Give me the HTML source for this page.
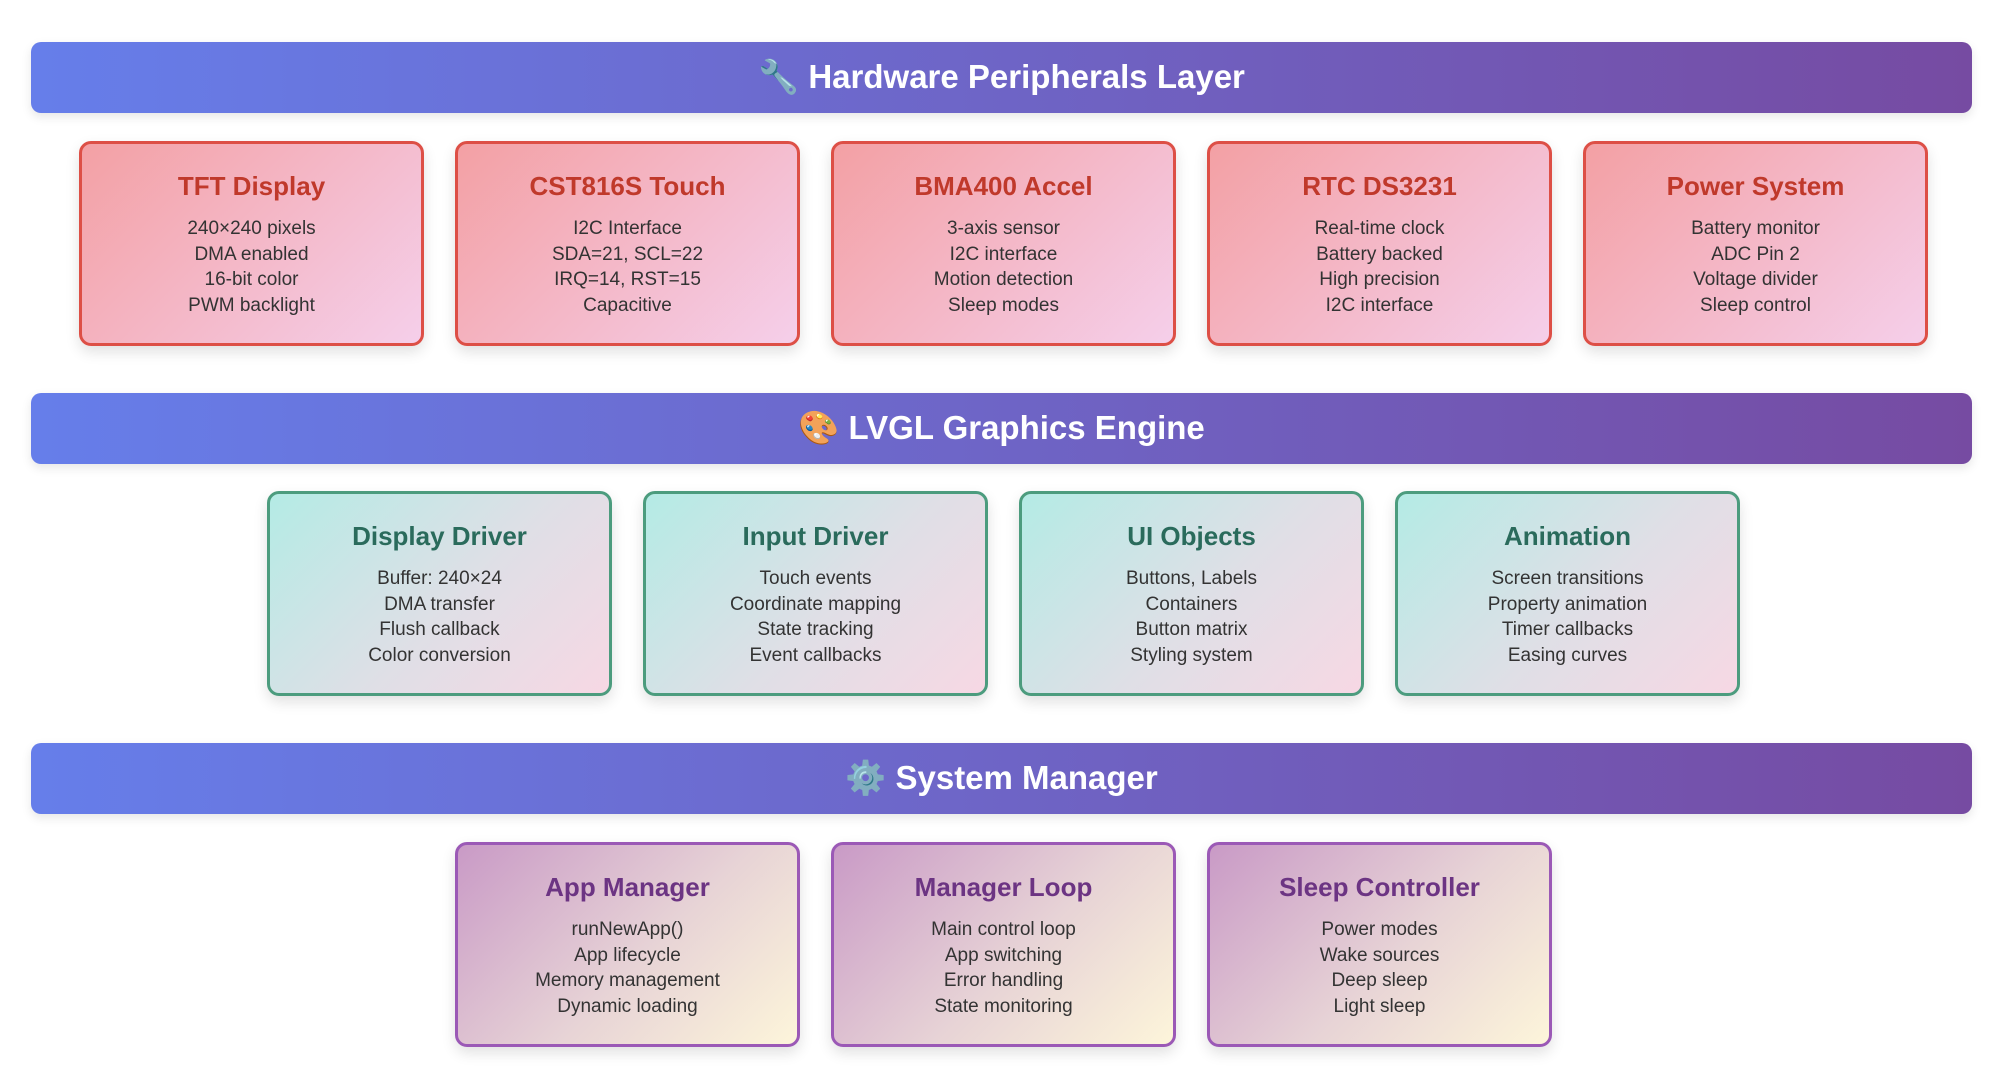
<!DOCTYPE html>
<html><head><meta charset="utf-8"><style>
*{margin:0;padding:0;box-sizing:border-box}
body{width:2008px;height:1076px;background:#fff;position:relative;overflow:hidden;font-family:"Liberation Sans","DejaVu Sans",sans-serif}
.ban{position:absolute;left:31px;width:1941px;height:71px;border-radius:10px;background:linear-gradient(90deg,#667eea,#764ba2);color:#fff;font-weight:bold;font-size:33px;display:flex;align-items:center;justify-content:center;box-shadow:0 4px 10px rgba(0,0,0,.1)}
.c{position:absolute;width:345px;height:205px;border-radius:12px;border:3px solid;text-align:center;box-shadow:0 6px 14px rgba(0,0,0,.12);padding-top:25px}
.c h3{font-size:26px;font-weight:bold;margin-bottom:13px;line-height:34px}
.c p{font-size:19px;line-height:25.7px;color:#333}
.r{background:linear-gradient(135deg,#f3a0a4,#f5cfea);border-color:#dd4f46}
.r h3{color:#c0392b}
.t{background:linear-gradient(135deg,#b4ebe5,#dfdfe6 55%,#f7d8e4);border-color:#4c9c7e}
.t h3{color:#2a6b5c}
.p{background:linear-gradient(135deg,#c99ac6,#e7d3d6 55%,#fdf5da);border-color:#9b59b6}
.p h3{color:#6c3483}
</style></head><body>
<div class="ban" style="top:42px">🔧 Hardware Peripherals Layer</div>
<div class="c r" style="left:79px;top:141px"><h3>TFT Display</h3><p>240×240 pixels<br>DMA enabled<br>16-bit color<br>PWM backlight</p></div>
<div class="c r" style="left:455px;top:141px"><h3>CST816S Touch</h3><p>I2C Interface<br>SDA=21, SCL=22<br>IRQ=14, RST=15<br>Capacitive</p></div>
<div class="c r" style="left:831px;top:141px"><h3>BMA400 Accel</h3><p>3-axis sensor<br>I2C interface<br>Motion detection<br>Sleep modes</p></div>
<div class="c r" style="left:1207px;top:141px"><h3>RTC DS3231</h3><p>Real-time clock<br>Battery backed<br>High precision<br>I2C interface</p></div>
<div class="c r" style="left:1583px;top:141px"><h3>Power System</h3><p>Battery monitor<br>ADC Pin 2<br>Voltage divider<br>Sleep control</p></div>

<div class="ban" style="top:393px">🎨 LVGL Graphics Engine</div>
<div class="c t" style="left:267px;top:491px"><h3>Display Driver</h3><p>Buffer: 240×24<br>DMA transfer<br>Flush callback<br>Color conversion</p></div>
<div class="c t" style="left:643px;top:491px"><h3>Input Driver</h3><p>Touch events<br>Coordinate mapping<br>State tracking<br>Event callbacks</p></div>
<div class="c t" style="left:1019px;top:491px"><h3>UI Objects</h3><p>Buttons, Labels<br>Containers<br>Button matrix<br>Styling system</p></div>
<div class="c t" style="left:1395px;top:491px"><h3>Animation</h3><p>Screen transitions<br>Property animation<br>Timer callbacks<br>Easing curves</p></div>

<div class="ban" style="top:743px">⚙️ System Manager</div>
<div class="c p" style="left:455px;top:842px"><h3>App Manager</h3><p>runNewApp()<br>App lifecycle<br>Memory management<br>Dynamic loading</p></div>
<div class="c p" style="left:831px;top:842px"><h3>Manager Loop</h3><p>Main control loop<br>App switching<br>Error handling<br>State monitoring</p></div>
<div class="c p" style="left:1207px;top:842px"><h3>Sleep Controller</h3><p>Power modes<br>Wake sources<br>Deep sleep<br>Light sleep</p></div>
</body></html>
